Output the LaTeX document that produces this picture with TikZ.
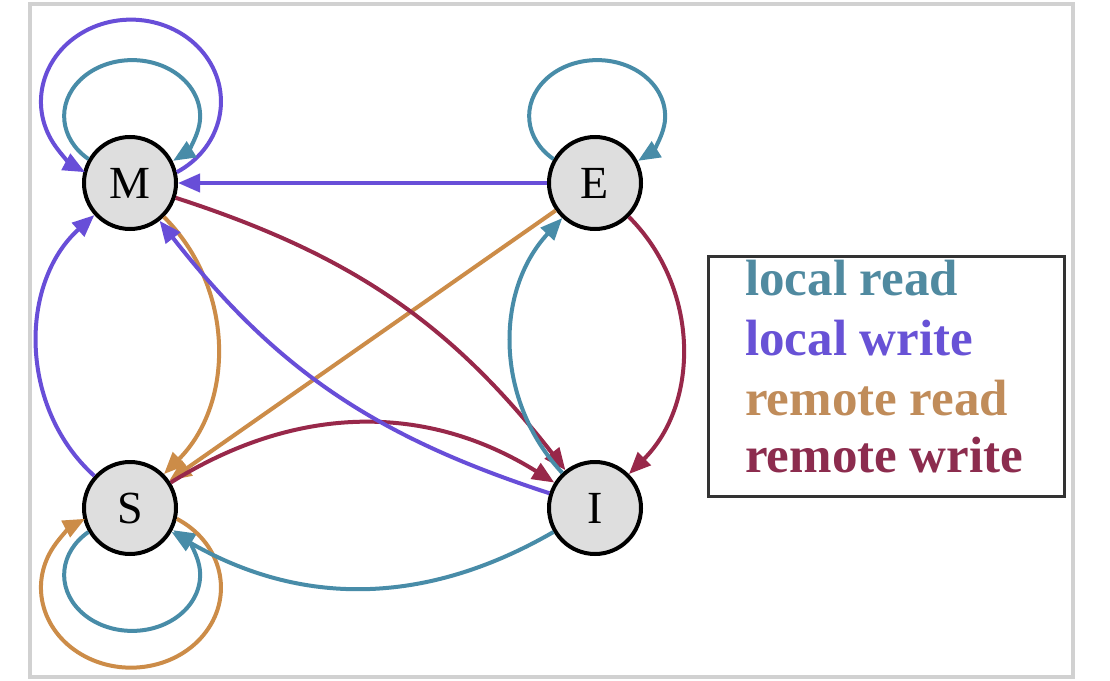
\documentclass[tikz,border=0pt]{standalone}
\usepackage{fontspec}
\setmainfont{Liberation Serif}
\usetikzlibrary{arrows.meta}
\definecolor{lreadc}{RGB}{72,140,168}
\definecolor{lwritec}{RGB}{104,78,216}
\definecolor{rreadc}{RGB}{204,140,72}
\definecolor{rwritec}{RGB}{152,40,74}
\definecolor{lreadt}{RGB}{80,138,160}
\definecolor{lwritet}{RGB}{104,82,214}
\definecolor{rreadt}{RGB}{192,140,90}
\definecolor{rwritet}{RGB}{140,44,78}
\definecolor{statefill}{RGB}{222,222,222}
\begin{document}
\begin{tikzpicture}[x=1pt,y=1pt,
  state/.style={circle,draw=black,line width=4pt,fill=statefill,minimum size=92pt,inner sep=0pt,font=\fontsize{46}{46}\selectfont},
  edgebase/.style={line width=4pt,-{Triangle[length=22pt,width=18pt]}},
  lread/.style={edgebase,color=lreadc},
  lwrite/.style={edgebase,color=lwritec},
  rread/.style={edgebase,color=rreadc},
  rwrite/.style={edgebase,color=rwritec},
  legtext/.style={anchor=base west,inner sep=0pt,font=\bfseries\fontsize{51}{51}\selectfont}
]
\useasboundingbox (0,0) rectangle (1110,-680);
\fill[white] (0,0) rectangle (1110,-680);
\draw[black!18,line width=4pt] (30,-4) rectangle (1073,-677);

\node[state] (M) at (130,-183) {M};
\node[state] (E) at (595,-183) {E};
\node[state] (S) at (130,-508) {S};
\node[state] (I) at (595,-508) {I};

% self loops
\draw[lwrite] (M.13) arc[start angle=-59.4, end angle=239.4, x radius=90, y radius=82];
\draw[lread] (M.150) arc[start angle=230, end angle=-53, x radius=68, y radius=56];
\draw[lread] (E.150) arc[start angle=230, end angle=-53, x radius=68, y radius=56];
\draw[lread] (S.210) arc[start angle=130, end angle=413, x radius=68, y radius=56];
\draw[rread] (S.-13) arc[start angle=59.4, end angle=-239.4, x radius=90, y radius=80];

% transitions
\draw[lwrite] (E) -- (M);
\draw[rread] (E) -- (S);
\draw[rwrite] (M) to[bend left=17] (I);
\draw[rwrite] (S) to[bend left=32] (I);
\draw[rwrite] (E) to[bend left=45] (I);
\draw[lread] (I) to[bend left=43] (E);
\draw[rread] (M) to[bend left=45] (S);
\draw[lwrite] (I) to[bend left=17] (M);
\draw[lwrite] (S) to[bend left=48] (M);
\draw[lread] (I) to[bend left=30] (S);

% legend
\node[draw=black!80,line width=2.5pt,minimum width=356pt,minimum height=240pt,anchor=north west,inner sep=0pt] (legendbox) at (707,-255) {};
\node[legtext,text=lreadt] (t1) at (745,-295) {local read};
\node[legtext,text=lwritet] (t2) at (745,-355) {local write};
\node[legtext,text=rreadt] (t3) at (745,-415) {remote read};
\node[legtext,text=rwritet] (t4) at (745,-472) {remote write};
\end{tikzpicture}
\end{document}
